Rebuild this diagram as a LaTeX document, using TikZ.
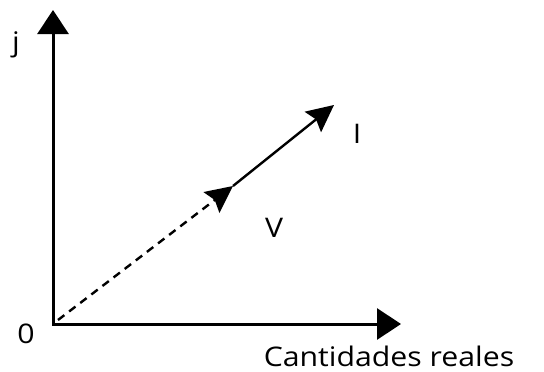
\documentclass[tikz,border=0pt]{standalone}
\usepackage{fontspec}
\setmainfont{Open Sans}
\usetikzlibrary{arrows.meta,positioning,calc}
\tikzset{
  axis/.style={-{Triangle[length=24pt,width=31pt]}, line width=3pt, line cap=rect},
  vec/.style={-{Stealth[length=27pt,width=26pt,inset=4pt]}, line width=2.4pt},
  dashvec/.style={vec, dash pattern=on 8pt off 6pt},
  lbl/.style={font=\fontsize{27}{30}\selectfont, inner sep=0pt, xscale=1.12, transform shape}
}

\begin{document}
\begin{tikzpicture}[x=1pt,y=-1pt]
  \useasboundingbox (0,0) rectangle (544,372);

  % origin, axis ends and phasor tips
  \coordinate (O)    at (53,324);
  \coordinate (yend) at (53,10);
  \coordinate (xend) at (401,324);
  \coordinate (Vtip) at (233,186);
  \coordinate (Itip) at (334,105);

  % axes
  \draw[axis] (O) -- (yend);
  \draw[axis] (O) -- (xend);

  % phasors V (dashed) and I
  \draw[dashvec] ($(O)+(5,-4)$) -- (Vtip);
  \draw[vec] (Vtip) -- (Itip);

  % labels
  \node[lbl] (jlbl) at (16,45)  {j};
  \node[lbl] (olbl) at (26,334) {0};
  \node[lbl] (ilbl) at (357,134) {I};
  \node[lbl] (vlbl) at (274,228) {V};
  \node[lbl] (xlbl) at (389,356) {Cantidades reales};
\end{tikzpicture}
\end{document}
